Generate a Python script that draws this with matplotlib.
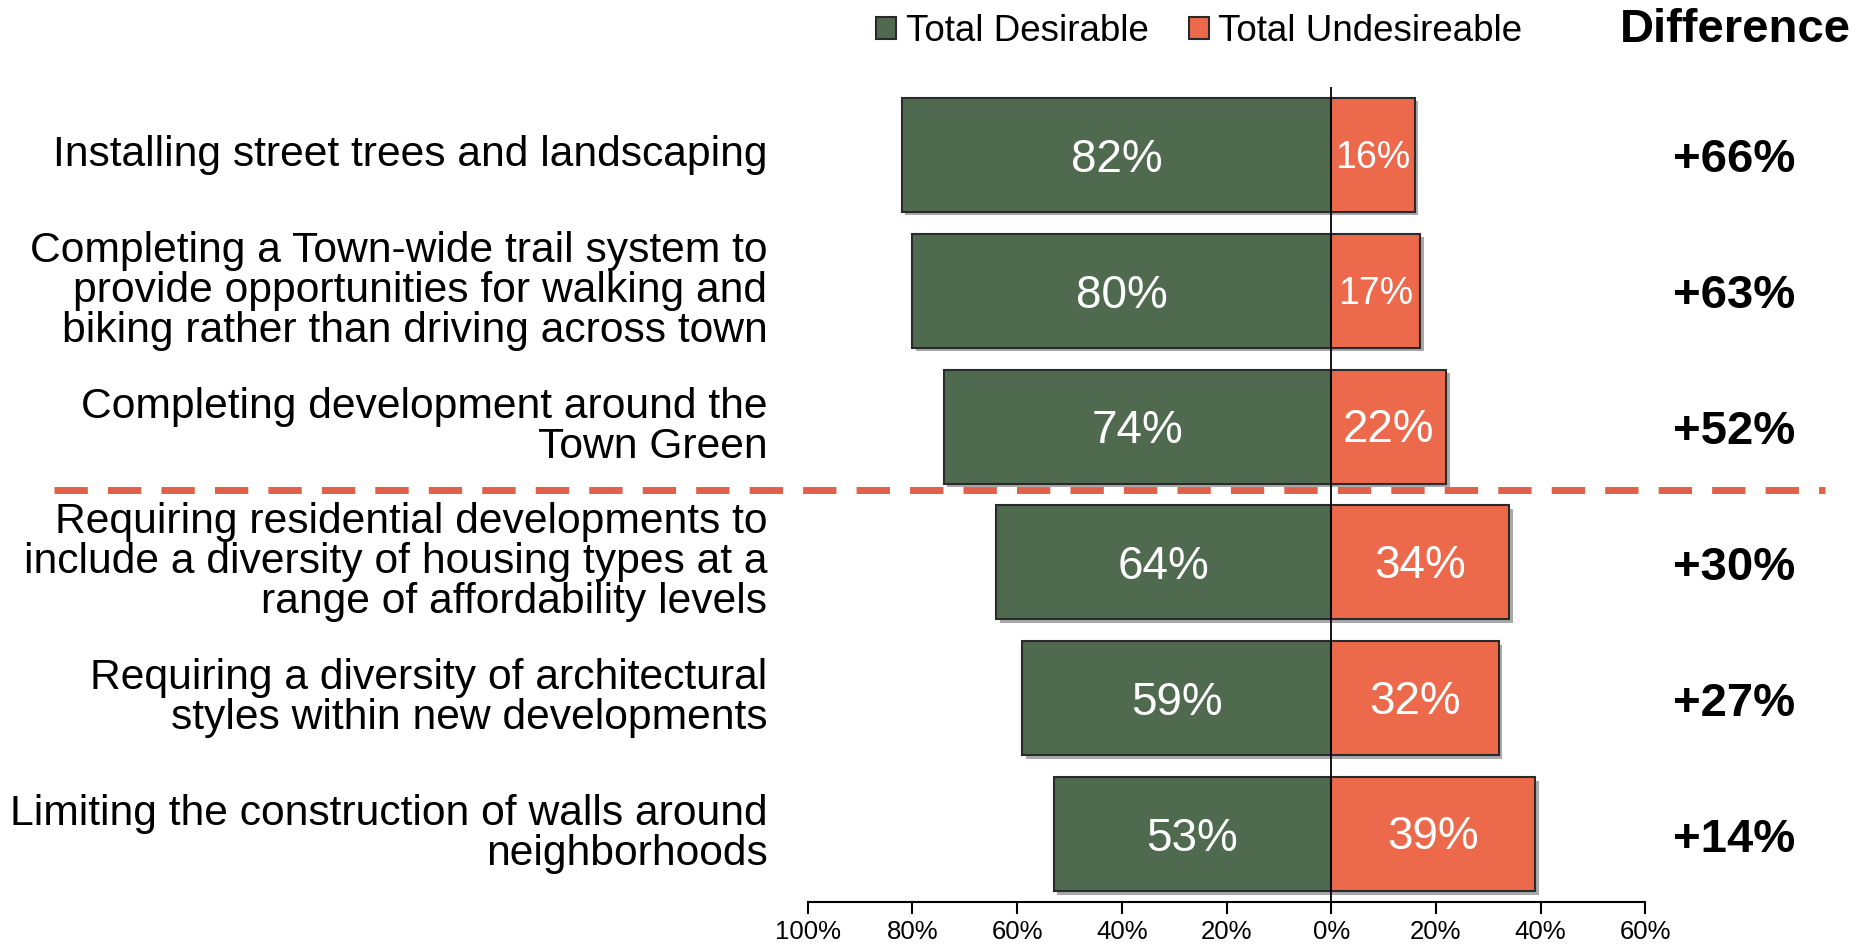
import matplotlib.pyplot as plt
import matplotlib.patheffects as pe
from matplotlib.patches import Patch
from matplotlib.lines import Line2D

plt.rcParams['font.family'] = ['Liberation Sans', 'DejaVu Sans']

# ==============================
# DATA
# ==============================
labels = [
    "Installing street trees and landscaping",
    "Completing a Town-wide trail system to\nprovide opportunities for walking and\nbiking rather than driving across town",
    "Completing development around the\nTown Green",
    "Requiring residential developments to\ninclude a diversity of housing types at a\nrange of affordability levels",
    "Requiring a diversity of architectural\nstyles within new developments",
    "Limiting the construction of walls around\nneighborhoods",
]
desirable = [82, 80, 74, 64, 59, 53]
undesirable = [16, 17, 22, 34, 32, 39]
difference = ["+66%", "+63%", "+52%", "+30%", "+27%", "+14%"]
ticks = [-100, -80, -60, -40, -20, 0, 20, 40, 60]

GREEN = "#506A50"
ORANGE = "#EC694C"
EDGE = "#2a2a2a"

# ==============================
# SETUP
# ==============================
fig = plt.figure(figsize=(18.74, 9.46), dpi=100)
ax = fig.add_axes([0.431, 0.0465, 0.447, 0.8615])

y = list(range(len(labels)))
shadow = [pe.SimplePatchShadow(offset=(2.5, -2.5), shadow_rgbFace="#555555", alpha=0.5), pe.Normal()]

bars_d = ax.barh(y, [-v for v in desirable], height=0.84, color=GREEN,
                 edgecolor=EDGE, linewidth=1.5, zorder=2)
bars_u = ax.barh(y, undesirable, height=0.84, color=ORANGE,
                 edgecolor=EDGE, linewidth=1.5, zorder=2)
for b in list(bars_d) + list(bars_u):
    b.set_path_effects(shadow)

# values inside bars
for i in y:
    ax.text(-desirable[i] / 2, i + 0.035, f"{desirable[i]}%", ha="center", va="center",
            color="white", fontsize=33, zorder=4)
    fs = 27 if undesirable[i] < 20 else 33
    ax.text(undesirable[i] / 2, i + 0.025, f"{undesirable[i]}%", ha="center", va="center",
            color="white", fontsize=fs, zorder=4)
    # row labels
    ax.text(-0.048, i, labels[i], transform=ax.get_yaxis_transform(),
            ha="right", va="center", multialignment="right",
            fontsize=30.7, linespacing=1.0, color="black")
    # difference
    ax.text(1.106, i + 0.04, difference[i], transform=ax.get_yaxis_transform(),
            ha="center", va="center", fontsize=34, fontweight="bold")

ax.axvline(0, color="black", linewidth=1.3, zorder=5)

ax.set_xlim(-100, 60)
ax.set_ylim(5.5, -0.5)
ax.set_xticks(ticks)
ax.set_xticklabels([f"{abs(t)}%" for t in ticks], fontsize=18.5)
ax.tick_params(axis="x", length=8.6, width=1.5, direction="out", pad=4)
ax.set_yticks([])
for s in ["top", "right", "left"]:
    ax.spines[s].set_visible(False)
ax.spines["bottom"].set_linewidth(1.5)

# ==============================
# DASHED SEPARATOR
# ==============================
fig.add_artist(Line2D([0.029, 0.974], [0.482, 0.482], transform=fig.transFigure,
                      color="#E0604A", linewidth=5, dashes=(4.8, 2.9),
                      solid_capstyle="butt", dash_capstyle="butt"))

# ==============================
# LEGEND + HEADER
# ==============================
handles = [Patch(facecolor=GREEN, edgecolor=EDGE, linewidth=1.5, label="Total Desirable"),
           Patch(facecolor=ORANGE, edgecolor=EDGE, linewidth=1.5, label="Total Undesireable")]
fig.legend(handles=handles, loc="center", bbox_to_anchor=(0.64, 0.967), ncol=2,
           frameon=False, fontsize=26.5, handlelength=0.55, handleheight=0.55,
           handletextpad=0.25, columnspacing=1.1, borderpad=0)
fig.text(0.926, 0.968, "Difference", ha="center", va="center", fontsize=34, fontweight="bold")

fig.savefig("out.png", dpi=100)
